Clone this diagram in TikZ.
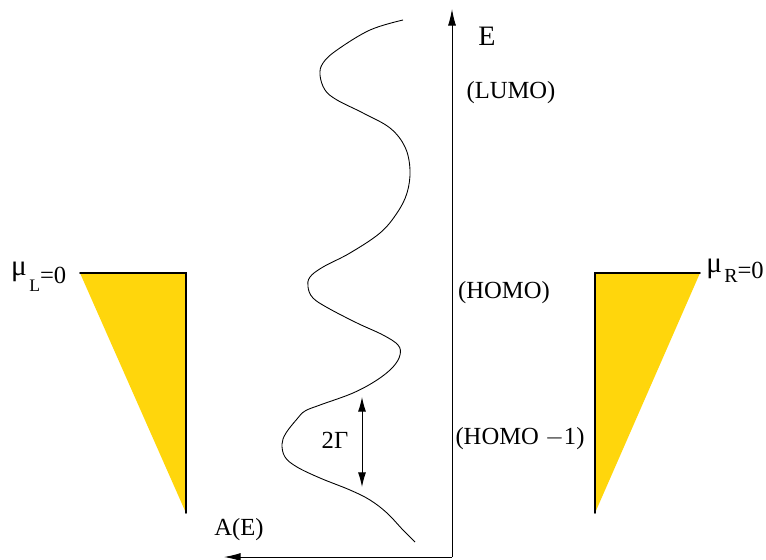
\documentclass[tikz,border=0pt]{standalone}
\usepackage{fontspec}
\setmainfont{Liberation Serif}
\usepackage{tikz}
\usetikzlibrary{arrows.meta, calc}
\definecolor{fermiyellow}{RGB}{255, 214, 12}

\begin{document}
\begin{tikzpicture}[
    x=0.03cm, y=-0.03cm,
    lbl/.style={inner sep=0pt, font=\fontsize{21}{25}\selectfont},
    axis/.style={line width=0.8pt, -{Latex[length=5mm, width=2.4mm]}},
    width2/.style={line width=0.8pt, {Latex[length=4.4mm, width=2.4mm]}-{Latex[length=4.4mm, width=2.4mm]}},
    lead/.style={fill=fermiyellow, draw=none},
    edge/.style={line width=1.6pt, line cap=round}
]
    \useasboundingbox (0,0) rectangle (766,559);

    % energy and spectral axes
    \coordinate (o) at (452,557);
    \coordinate (etop) at (452,9);
    \coordinate (aend) at (224,557);
    \draw[axis] (o) -- (etop);
    \draw[axis] (o) -- (aend);
    \node[lbl, font=\fontsize{24}{28}\selectfont] (e) at (487,36) {E};
    \node[lbl] (ae) at (239,530) {A(E)};

    % spectral function
    \draw[line width=0.75pt] plot[smooth, tension=0.6] coordinates {
        (403,20) (370,30) (337,50) (323,63) (320,75) (325,90) (337,100)
        (363,113) (390,128) (405,147) (410,170) (407,193) (397,213)
        (380,233) (350,253) (323,267) (310,277) (308,287) (313,298)
        (328,308) (357,323) (383,335) (398,345) (400,355) (393,367)
        (377,380) (353,393) (320,405) (305,411) (297,419) (286,433)
        (282,444) (285,457) (297,467) (320,478) (350,490) (370,500)
        (387,513) (403,530) (415,542)};

    % level labels
    \node[lbl] (lumo) at (511,93) {(LUMO)};
    \node[lbl] (homo) at (504,293) {(HOMO)};
    \node[lbl] (homo1) at (520,439) {(HOMO $-$1)};

    % broadening
    \coordinate (gtop) at (362,397);
    \coordinate (gbot) at (362,487);
    \draw[width2] (gtop) -- (gbot);
    \node[lbl] (gam) at (335,440) {2Γ};

    % left lead
    \coordinate (l1) at (80,273);
    \coordinate (l2) at (186,273);
    \coordinate (l3) at (186,513);
    \fill[lead] (l1) -- (l2) -- (l3) -- cycle;
    \draw[edge] (l1) -- (l2) -- (l3);
    \node[lbl, anchor=base west] (mul) at (11,283)
        {\raisebox{6pt}{\fontsize{25}{28}\selectfont μ}\hspace{2pt}\raisebox{-7.5pt}{\fontsize{15}{18}\selectfont L}=0};

    % right lead
    \coordinate (r1) at (595,273);
    \coordinate (r2) at (700,273);
    \coordinate (r3) at (595,513);
    \fill[lead] (r1) -- (r2) -- (r3) -- cycle;
    \draw[edge] (r3) -- (r1) -- (r2);
    \node[lbl, anchor=base east] (mur) at (764,278)
        {\raisebox{5pt}{\fontsize{25}{28}\selectfont μ}\hspace{2pt}\raisebox{-3.5pt}{\fontsize{17}{18}\selectfont R}=0};
\end{tikzpicture}
\end{document}
